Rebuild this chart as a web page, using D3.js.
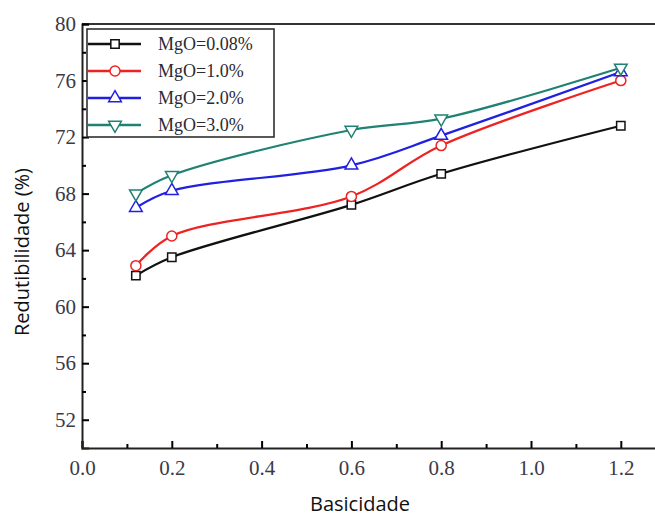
<!DOCTYPE html>
<html lang="pt">
<head>
<meta charset="utf-8">
<title>Redutibilidade x Basicidade</title>
<script src="https://d3js.org/d3.v7.min.js"></script>
<style>
  body { margin: 0; background: white; }
  .tick text { font-family: "Liberation Serif", serif; font-size: 21px; fill: #3a3a48; }
  .axis-title { font-family: "Open Sans", sans-serif; font-size: 20px; fill: #111; }
  .legend text { font-family: "Liberation Serif", serif; font-size: 18px; fill: #2a2a33; }
</style>
</head>
<body>
<div id="main"></div>
<script>
var width = 655, height = 520;

// data
var basicity = [0.12, 0.2, 0.6, 0.8, 1.2];
var mgo008 = [62.2, 63.5, 67.2, 69.4, 72.8];
var mgo10  = [62.9, 65.0, 67.8, 71.4, 76.0];
var mgo20  = [67.0, 68.2, 70.0, 72.1, 76.6];
var mgo30  = [68.0, 69.3, 72.5, 73.3, 76.9];
var seriesNames = ["MgO=0.08%", "MgO=1.0%", "MgO=2.0%", "MgO=3.0%"];
var xTicks = [0, 0.2, 0.4, 0.6, 0.8, 1.0, 1.2];
var yTicks = [52, 56, 60, 64, 68, 72, 76, 80];

var colors = ["#111111", "#ee2222", "#2020e0", "#1f8272"];
var symbols = [d3.symbolSquare, d3.symbolCircle, d3.symbolTriangle, d3.symbolTriangle];
var symSizes = [70, 80, 70, 70];
var symRotate = [0, 0, 0, 180];

var series = [mgo008, mgo10, mgo20, mgo30].map(function (vals, i) {
  return { name: seriesNames[i], values: vals.map(function (v, j) { return { x: basicity[j], y: v }; }) };
});

var padL = 82, padT = 24, padB = 448;

var x = d3.scaleLinear().domain([0, 1.3]).range([padL, padL + 449 * 1.3]);
var y = d3.scaleLinear().domain([50, 80]).range([padB, padT]);

var svg = d3.select("#main").append("svg")
  .attr("width", width).attr("height", height);

// top frame line
svg.append("line")
  .attr("x1", padL).attr("x2", x(1.3))
  .attr("y1", padT).attr("y2", padT)
  .attr("stroke", "#333").attr("stroke-width", 2);

// minor ticks
var xMinor = [0.1, 0.3, 0.5, 0.7, 0.9, 1.1];
var yMinor = [54, 58, 62, 66, 70, 74, 78];

var xAxis = svg.append("g")
  .attr("transform", "translate(0," + padB + ")")
  .call(d3.axisBottom(x).tickValues(xTicks).tickSize(-7).tickPadding(12)
    .tickFormat(d3.format(".1f")));
xAxis.select(".domain").attr("stroke", "#222").attr("stroke-width", 2);
xAxis.selectAll(".tick line").attr("stroke-width", 2);

svg.append("g").attr("transform", "translate(0," + padB + ")")
  .call(d3.axisBottom(x).tickValues(xMinor).tickSize(-4).tickFormat(""))
  .call(function (g) { g.select(".domain").remove(); })
  .selectAll(".tick line").attr("stroke-width", 2);

var yAxis = svg.append("g")
  .attr("transform", "translate(" + padL + ",0)")
  .call(d3.axisLeft(y).tickValues(yTicks).tickSize(-7).tickPadding(6));
yAxis.select(".domain").attr("stroke", "#222").attr("stroke-width", 2);
yAxis.selectAll(".tick line").attr("stroke-width", 2);

svg.append("g").attr("transform", "translate(" + padL + ",0)")
  .call(d3.axisLeft(y).tickValues(yMinor).tickSize(-4).tickFormat(""))
  .call(function (g) { g.select(".domain").remove(); })
  .selectAll(".tick line").attr("stroke-width", 2);

// curves
var line = d3.line()
  .x(function (d) { return x(d.x); })
  .y(function (d) { return y(d.y); })
  .curve(d3.curveCatmullRom.alpha(0.5));

series.forEach(function (s, i) {
  svg.append("path")
    .datum(s.values)
    .attr("fill", "none")
    .attr("stroke", colors[i])
    .attr("stroke-width", 2.2)
    .attr("d", line);
});

series.forEach(function (s, i) {
  svg.append("g").selectAll("path")
    .data(s.values)
    .enter().append("path")
    .attr("d", d3.symbol().type(symbols[i]).size(symSizes[i]))
    .attr("transform", function (d) {
      return "translate(" + x(d.x) + "," + y(d.y) + ") rotate(" + symRotate[i] + ")";
    })
    .attr("fill", "white")
    .attr("stroke", colors[i])
    .attr("stroke-width", 1.5);
});

// legend
var lg = svg.append("g").attr("class", "legend");
lg.append("rect")
  .attr("x", 87).attr("y", 29).attr("width", 187).attr("height", 108)
  .attr("fill", "white").attr("stroke", "#222").attr("stroke-width", 1.5);

series.forEach(function (s, i) {
  var ly = 44 + i * 27;
  lg.append("line")
    .attr("x1", 88).attr("x2", 141).attr("y1", ly).attr("y2", ly)
    .attr("stroke", colors[i]).attr("stroke-width", 2.5);
  lg.append("path")
    .attr("d", d3.symbol().type(symbols[i]).size(symSizes[i])())
    .attr("transform", "translate(115," + ly + ") rotate(" + symRotate[i] + ")")
    .attr("fill", "white").attr("stroke", colors[i]).attr("stroke-width", 1.5);
  lg.append("text")
    .attr("x", 158).attr("y", ly + 6)
    .text(s.name);
});

// axis titles
svg.append("text").attr("class", "axis-title")
  .attr("text-anchor", "middle")
  .attr("x", 360).attr("y", 511)
  .text("Basicidade");

svg.append("text").attr("class", "axis-title")
  .attr("text-anchor", "middle")
  .attr("transform", "translate(29,252) rotate(-90)")
  .text("Redutibilidade (%)");
</script>
</body>
</html>
